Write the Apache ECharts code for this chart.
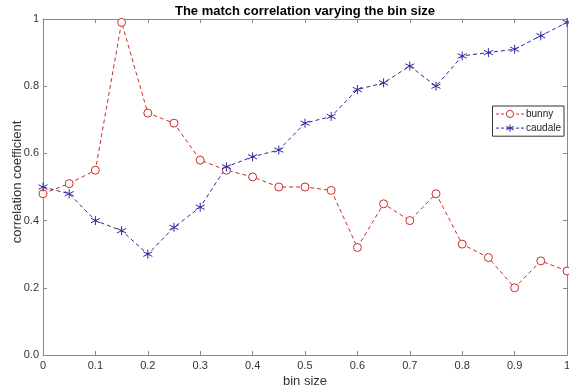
<!DOCTYPE html>
<html><head><meta charset="utf-8">
<script src="https://cdn.jsdelivr.net/npm/echarts@6/dist/echarts.min.js"></script>
<style>html,body{margin:0;padding:0;background:#fff}#c{width:569px;height:391px}</style>
</head><body><div id="c"></div>
<script>
var binSizes = [0,0.05,0.1,0.15,0.2,0.25,0.3,0.35,0.4,0.45,0.5,0.55,0.6,0.65,0.7,0.75,0.8,0.85,0.9,0.95,1.0];
var bunny = [0.48,0.51,0.55,0.99,0.72,0.69,0.58,0.55,0.53,0.50,0.50,0.49,0.32,0.45,0.40,0.48,0.33,0.29,0.20,0.28,0.25];
var caudale = [0.50,0.48,0.40,0.37,0.30,0.38,0.44,0.56,0.59,0.61,0.69,0.71,0.79,0.81,0.86,0.80,0.89,0.90,0.91,0.95,0.99];
var seriesNames = ['bunny','caudale'];

function pairs(ys){ return binSizes.map(function(x,i){ return [x, ys[i]]; }); }
var FONT = 'Liberation Sans, Arial, sans-serif';
var axisCol = '#8a8a8a';
var red = '#cc2b2b', blue = '#2a2a9e';
var star = 'path://M0,-5L0,5M-4.33,-2.5L4.33,2.5M-4.33,2.5L4.33,-2.5';

var chart = echarts.init(document.getElementById('c'), null, {renderer:'canvas'});
var baseX = {type:'value', min:0, max:1, interval:0.1,
  axisLine:{show:true, onZero:false, lineStyle:{color:axisCol, width:1}},
  axisTick:{show:true, inside:true, length:4, lineStyle:{color:axisCol}},
  splitLine:{show:false}};
var baseY = {type:'value', min:0, max:1, interval:0.2,
  axisLine:{show:true, onZero:false, lineStyle:{color:axisCol, width:1}},
  axisTick:{show:true, inside:true, length:4, lineStyle:{color:axisCol}},
  splitLine:{show:false}};

chart.setOption({
  animation:false,
  backgroundColor:'#fff',
  title:{text:'The match correlation varying the bin size', left:300, textAlign:'center', top:0,
    textStyle:{fontFamily:FONT, fontSize:13, fontWeight:'bold', color:'#000'}},
  grid:{left:43, right:2, top:19, bottom:36, containLabel:false, outerBoundsMode:'none'},
  legend:{data:[
      {name:seriesNames[0], lineStyle:{width:1, type:[3,2], color:red}, itemStyle:{color:'#fff', borderColor:red, borderWidth:1}},
      {name:seriesNames[1], lineStyle:{width:1, type:[3,2], color:blue}, itemStyle:{color:'none', borderColor:blue, borderWidth:1}}],
    right:5, top:106, orient:'vertical', itemWidth:28, itemHeight:9, itemGap:3,
    padding:[3,3,2,3], borderColor:'#333', borderWidth:1, backgroundColor:'#fff',
    textStyle:{fontFamily:FONT, fontSize:10, color:'#222', padding:[0,0,0,-3]}},
  xAxis:[
    Object.assign({}, baseX, {position:'bottom', name:'bin size', nameLocation:'middle', nameGap:20,
      nameMoveOverlap:false,
      nameTextStyle:{fontFamily:FONT, fontSize:13, color:'#333'},
      axisLabel:{fontFamily:FONT, fontSize:11, color:'#333', margin:5,
        formatter:function(v){ return (v===0||v===1)?String(v):v.toFixed(1); }}}),
    Object.assign({}, baseX, {position:'top', axisLabel:{show:false}})
  ],
  yAxis:[
    Object.assign({}, baseY, {position:'left', name:'correlation coefficient', nameLocation:'middle', nameGap:19,
      nameMoveOverlap:false,
      nameTextStyle:{fontFamily:FONT, fontSize:13, color:'#333', padding:[0,0,0,10]},
      axisLabel:{fontFamily:FONT, fontSize:11, color:'#333', margin:4,
        formatter:function(v){ return v===1?'1':v.toFixed(1); }}}),
    Object.assign({}, baseY, {position:'right', axisLabel:{show:false}})
  ],
  series:[
    {name:seriesNames[0], type:'line', data:pairs(bunny), symbol:'circle', symbolSize:8,
      lineStyle:{color:red, width:1, type:[4,3]},
      itemStyle:{color:'#fff', borderColor:red, borderWidth:1}},
    {name:seriesNames[1], type:'line', data:pairs(caudale), symbol:star, symbolSize:9,
      lineStyle:{color:blue, width:1, type:[4,3]},
      itemStyle:{color:'none', borderColor:blue, borderWidth:1}}
  ]
});
</script></body></html>
